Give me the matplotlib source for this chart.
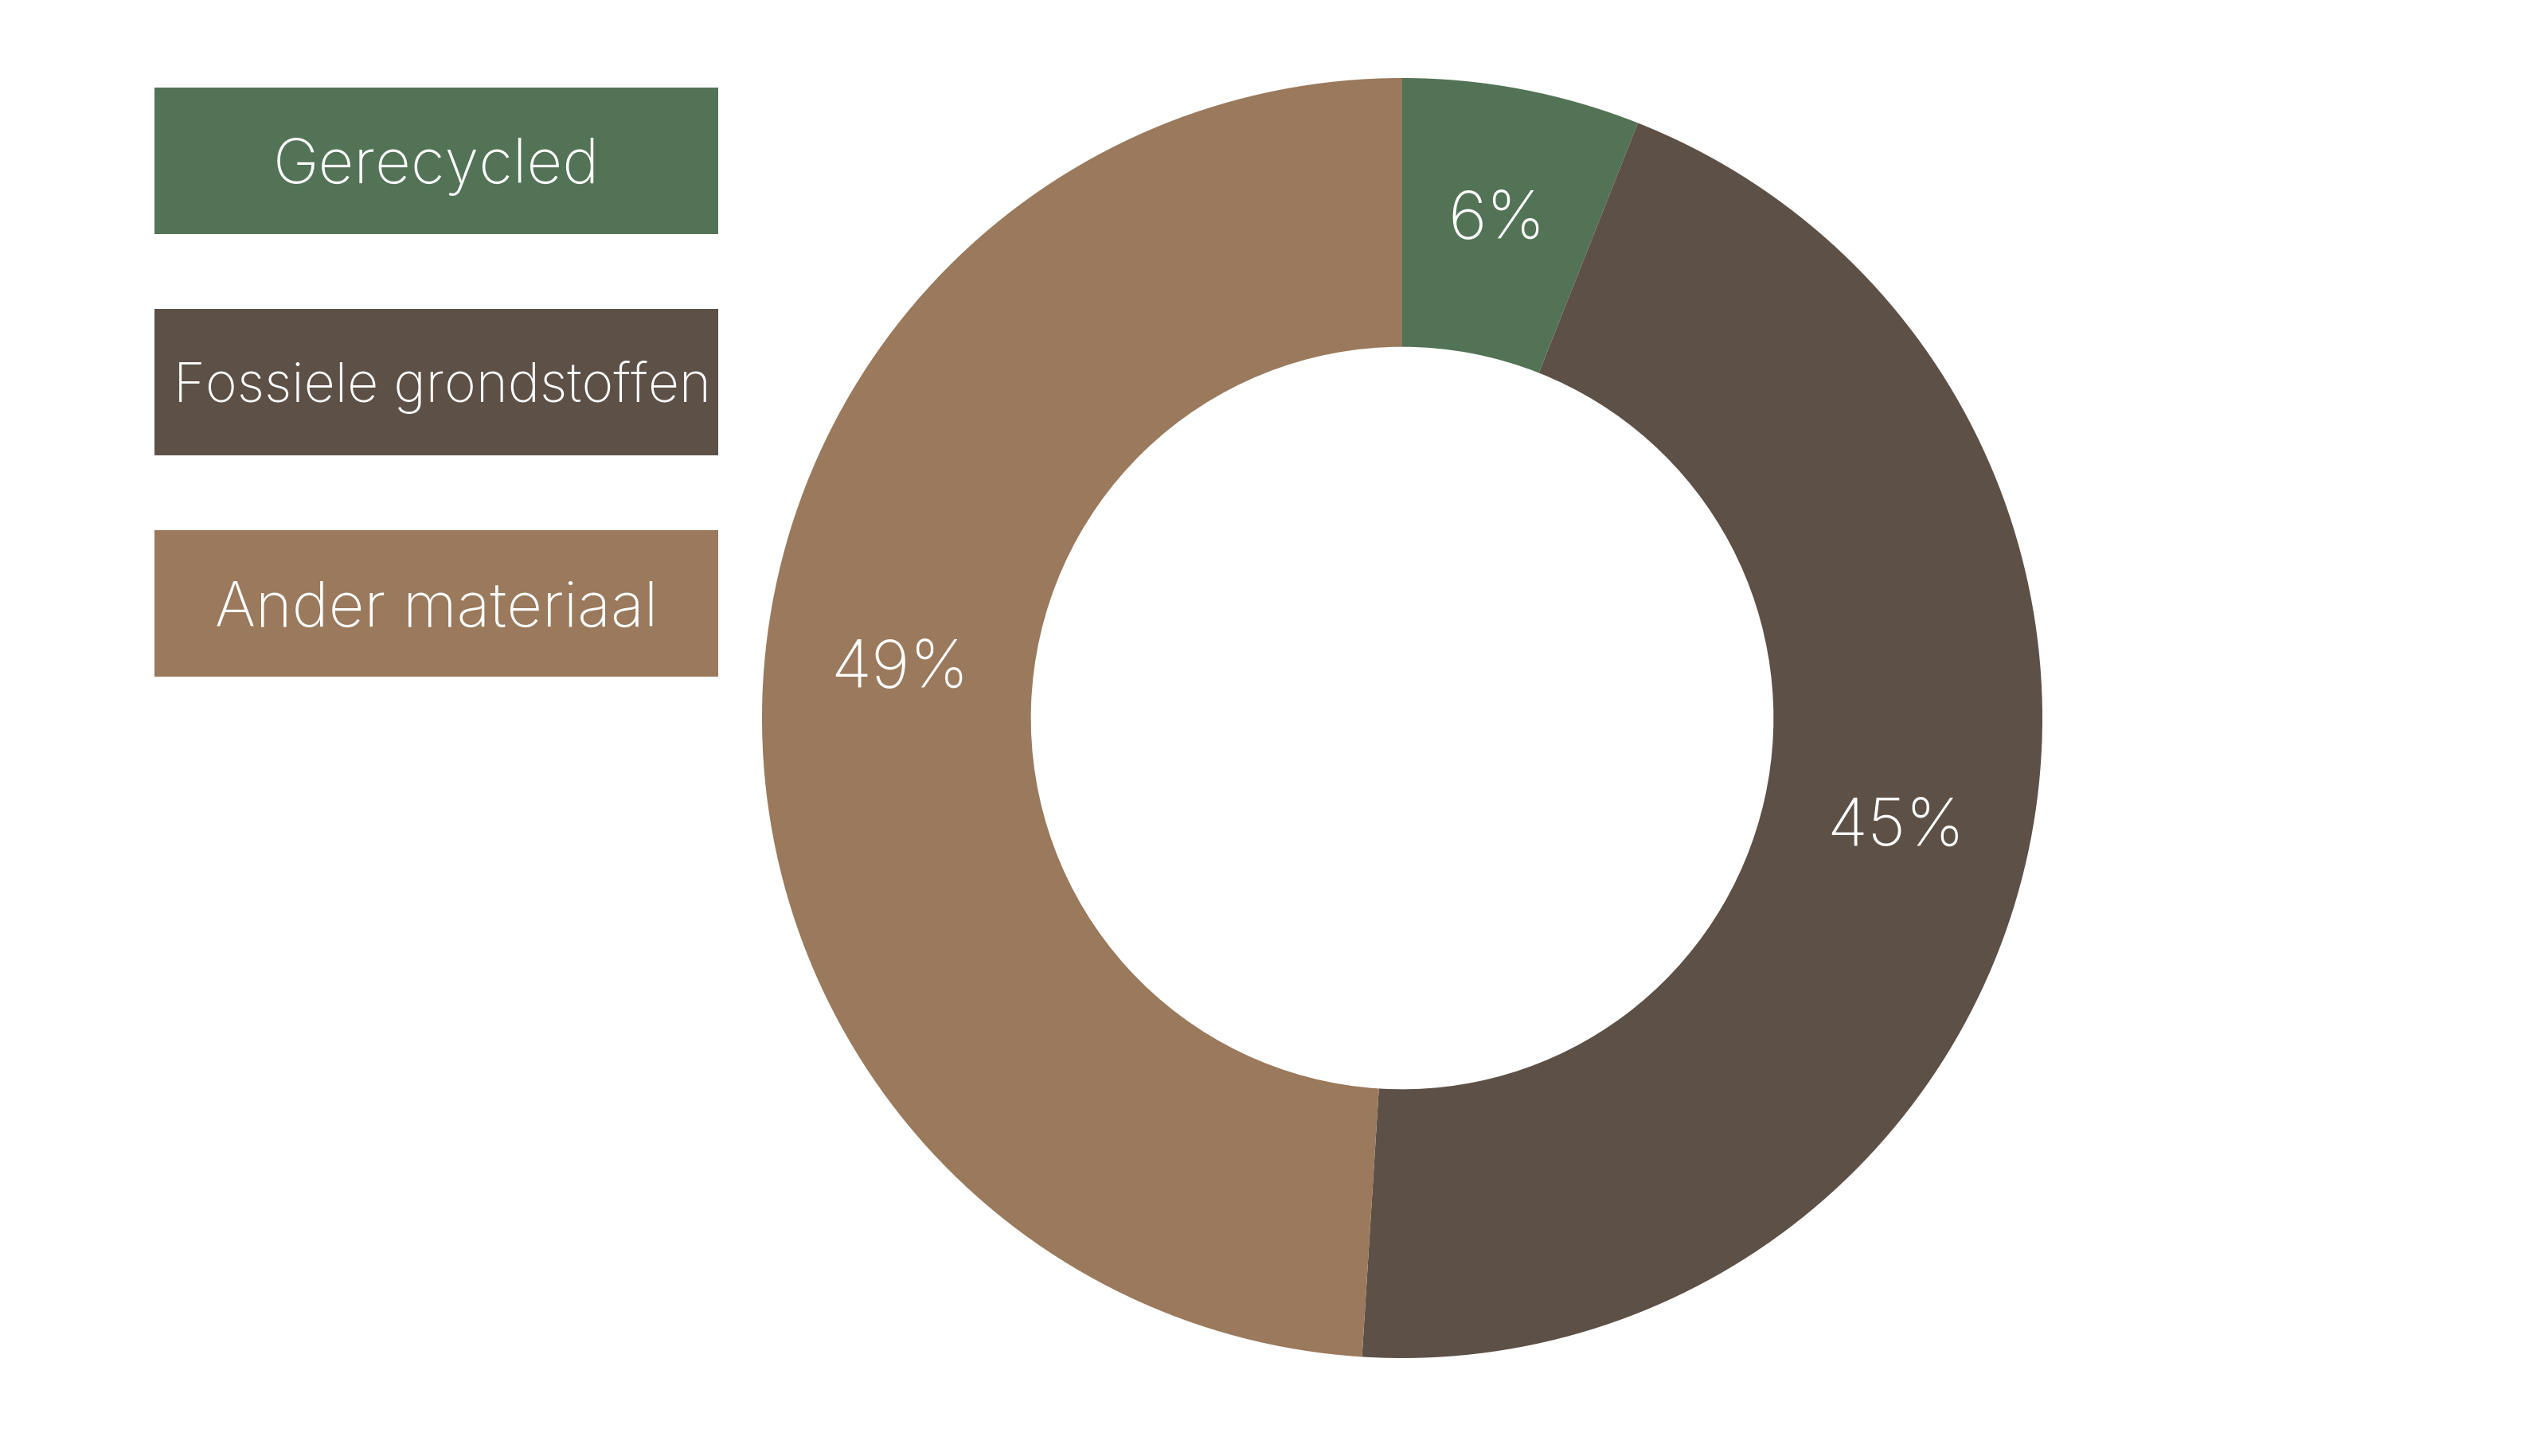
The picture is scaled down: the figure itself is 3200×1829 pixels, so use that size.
import matplotlib
matplotlib.use("Agg")
import matplotlib.pyplot as plt
from matplotlib.patches import Rectangle

# data
categories = ["Gerecycled", "Fossiele grondstoffen", "Ander materiaal"]
shares = [6, 45, 49]
colors = ["#527355", "#5d5047", "#9a795c"]
legend_sizes = [56, 49, 56]

plt.rcParams['font.family'] = ['Inter', 'DejaVu Sans']

W, H = 3200, 1829
fig = plt.figure(figsize=(W / 100, H / 100), dpi=100)

# donut, centre (1761, 902) px, outer radius 804 px
cx, cy, R = 1761, 902, 804
ax = fig.add_axes([(cx - R) / W, (H - cy - R) / H, 2 * R / W, 2 * R / H])
wedges, texts = ax.pie(
    shares, colors=colors, startangle=90, counterclock=False,
    labels=[f"{s}%" for s in shares], labeldistance=0.79,
    wedgeprops=dict(width=0.42, linewidth=0),
    textprops=dict(color="white", fontsize=60, fontweight="light",
                   ha="center", va="center"),
)
# the last label sits a little higher in the original
x, y = texts[2].get_position()
texts[2].set_position((x + 0.005, y + 0.05))
ax.set_xlim(-1, 1)
ax.set_ylim(-1, 1)
ax.set_aspect("equal")

# legend boxes drawn in pixel space
lax = fig.add_axes([0, 0, 1, 1])
lax.set_xlim(0, W)
lax.set_ylim(H, 0)
lax.set_axis_off()
box_x, box_w, box_h, top, step = 194, 708, 184, 110, 278
for i, (name, c, fs) in enumerate(zip(categories, colors, legend_sizes)):
    y0 = top + i * step
    lax.add_patch(Rectangle((box_x, y0), box_w, box_h, facecolor=c, edgecolor="none"))
    lax.text(box_x + box_w / 2 + (7 if i == 1 else 0), y0 + box_h / 2 + 0.36 * fs * 100 / 72,
             name, color="white", fontsize=fs, fontweight="light",
             ha="center", va="baseline")

fig.savefig("out.png", dpi=100, facecolor="white")
